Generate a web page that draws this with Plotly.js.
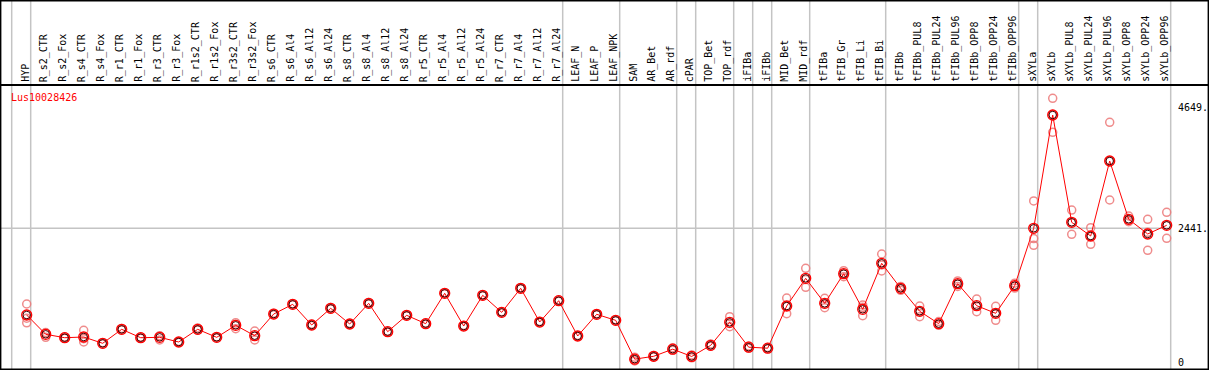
<!DOCTYPE html>
<html>
<head>
<meta charset="utf-8">
<script src="https://cdn.plot.ly/plotly-3.0.1.min.js"></script>
<style>html,body{margin:0;padding:0;background:#fff;}#chart{width:1209px;height:370px;}</style>
</head>
<body>
<div id="chart"></div>
<script>
const geneName = "Lus10028426";
const categories = ["HYP","R_s2_CTR","R_s2_Fox","R_s4_CTR","R_s4_Fox","R_r1_CTR","R_r1_Fox","R_r3_CTR","R_r3_Fox","R_r1s2_CTR","R_r1s2_Fox","R_r3s2_CTR","R_r3s2_Fox","R_s6_CTR","R_s6_Al4","R_s6_Al12","R_s6_Al24","R_s8_CTR","R_s8_Al4","R_s8_Al12","R_s8_Al24","R_r5_CTR","R_r5_Al4","R_r5_Al12","R_r5_Al24","R_r7_CTR","R_r7_Al4","R_r7_Al12","R_r7_Al24","LEAF_N","LEAF_P","LEAF_NPK","SAM","AR_Bet","AR_rdf","cPAR","TOP_Bet","TOP_rdf","iFIBa","iFIBb","MID_Bet","MID_rdf","tFIBa","tFIB_Gr","tFIB_Li","tFIB_Bi","tFIBb","tFIBb_PUL8","tFIBb_PUL24","tFIBb_PUL96","tFIBb_OPP8","tFIBb_OPP24","tFIBb_OPP96","sXYLa","sXYLb","sXYLb_PUL8","sXYLb_PUL24","sXYLb_PUL96","sXYLb_OPP8","sXYLb_OPP24","sXYLb_OPP96"];
const meanValues = [859,507,445,458,343,598,445,452,367,598,452,671,482,877,1054,677,981,695,1072,555,853,701,1255,658,1218,908,1346,731,1120,476,872,762,54,106,236,103,306,726,272,254,1023,1528,1072,1613,963,1802,1346,927,701,1430,1029,890,1394,2441,4507,2550,2300,3668,2605,2337,2495];
const rep1 = [1060,540,460,580,355,615,455,480,375,620,460,719,567,890,1065,690,995,705,1085,565,865,712,1266,668,1230,918,1357,741,1131,486,883,772,90,120,262,130,330,828,292,268,1169,1711,1163,1667,1041,1972,1380,1023,740,1480,1151,1018,1440,2939,4812,2774,2452,4374,2665,2605,2732];
const rep2 = [800,530,440,427,340,590,445,473,365,590,450,685,476,875,1050,675,980,695,1070,555,850,700,1252,656,1215,906,1345,730,1118,474,870,760,52,104,232,100,298,704,270,252,1017,1509,1061,1614,1001,1772,1348,930,693,1430,1017,890,1392,2254,4518,2545,2299,3673,2589,2367,2495];
const rep3 = [717,452,435,367,334,589,435,403,361,584,446,609,403,866,1047,666,968,685,1061,545,844,691,1247,650,1209,900,1336,722,1111,468,863,754,20,94,214,79,290,646,254,242,883,1364,992,1558,847,1662,1310,828,670,1380,919,762,1350,2130,4191,2331,2149,2957,2561,2039,2258];
const groupEndsAfter = [-1,0,28,31,34,35,37,38,39,41,45,52,53,60];
const tickValues = [0, 2441, 4649];
const tickLabels = ["0", "2441.", "4649."];

const idx = categories.map((c,i)=>i);
const W = 1209, H = 370;
const mono = "DejaVu Sans Mono, monospace";
const repColor = "rgba(236,120,120,0.85)";

const traces = [];
[rep1, rep2, rep3].forEach(r => {
  traces.push({x: idx, y: r, type: "scatter", mode: "markers", hoverinfo: "skip",
    marker: {symbol: "circle-open", size: 8, color: repColor, line: {width: 1.5}}});
});
traces.push({x: idx, y: meanValues, type: "scatter", mode: "lines+markers",
  line: {color: "#ff0000", width: 1},
  marker: {symbol: "circle-open", size: 10, color: "#ff0000", line: {width: 1.3}}});
traces.push({x: idx, y: meanValues, type: "scatter", mode: "markers",
  marker: {symbol: "circle-open", size: 7.5, color: "#400000", line: {width: 1}}});

const shapes = [];
groupEndsAfter.forEach(g => {
  shapes.push({type: "line", xref: "x", yref: "paper", x0: g + 0.21, x1: g + 0.21, y0: 0, y1: 1,
    line: {color: "#c4c4c4", width: 1.5}, layer: "below"});
});
shapes.push({type: "line", xref: "paper", yref: "y", x0: 1/W, x1: 1170/W, y0: tickValues[1], y1: tickValues[1],
  line: {color: "#c4c4c4", width: 1.5}, layer: "below"});
const frame = [
  [0.5/W, 0.5/W, 0, 1],
  [1208.5/W, 1208.5/W, 0, 1],
  [0, 1, 1 - 0.5/H, 1 - 0.5/H],
  [0, 1, 0.6/H, 0.6/H],
  [0, 1, 1 - 85/H, 1 - 85/H]
];
frame.forEach(f => shapes.push({type: "line", xref: "paper", yref: "paper", x0: f[0], x1: f[1], y0: f[2], y1: f[3],
  line: {color: "#000", width: 1.8}}));

const annotations = categories.map((c,i) => ({
  x: i - 0.1, y: 1 - 84/H, xref: "x", yref: "paper", text: c, showarrow: false,
  textangle: -90, xanchor: "center", yanchor: "bottom",
  font: {family: mono, size: 10, color: "#000"}
}));
tickValues.forEach((v,k) => annotations.push({
  x: 1176/W, y: v, xref: "paper", yref: "y", text: tickLabels[k], showarrow: false,
  xanchor: "left", yanchor: "middle", font: {family: mono, size: 10, color: "#000"}
}));
annotations.push({x: 9/W, y: 1 - 97/H, xref: "paper", yref: "paper", text: geneName, showarrow: false,
  xanchor: "left", yanchor: "middle", font: {family: mono, size: 10, color: "#ff0000"}});

const layout = {
  width: W, height: H, margin: {l: 0, r: 0, t: 0, b: 0},
  paper_bgcolor: "#fff", plot_bgcolor: "#fff", showlegend: false,
  xaxis: {range: [-26.7/19, -26.7/19 + W/19], visible: false, fixedrange: true},
  yaxis: {range: [-144, 6605], visible: false, fixedrange: true},
  shapes: shapes, annotations: annotations
};
Plotly.newPlot("chart", traces, layout, {displayModeBar: false, staticPlot: true});
</script>
</body>
</html>
